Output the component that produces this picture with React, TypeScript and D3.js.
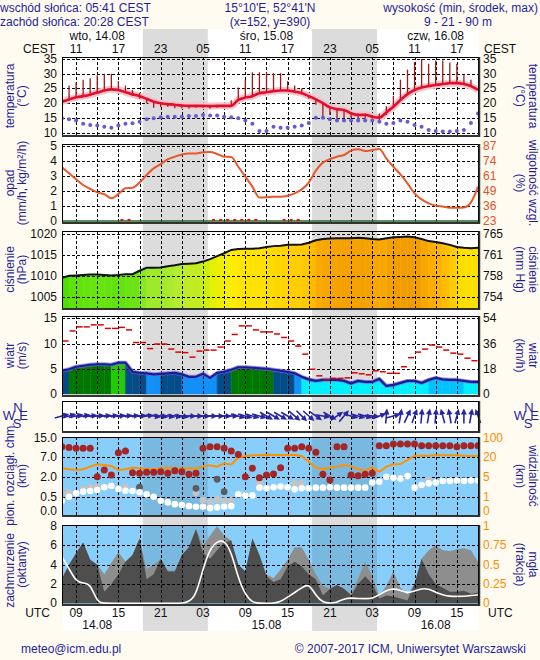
import React from 'react';
import * as d3 from 'd3';

// prognoza godzinowa: od 09 CEST 14.08 (07 UTC) do 20 CEST 16.08 – 60 kroków
const cestLabels = ['11', '17', '23', '05', '11', '17', '23', '05', '11', '17'];
const utcLabels = ['09', '15', '21', '03', '09', '15', '21', '03', '09', '15'];
const labelHours = [2, 8, 14, 20, 26, 32, 38, 44, 50, 56];
const dayLabels = ['wto, 14.08', 'śro, 15.08', 'czw, 16.08'];
const dateLabels = ['14.08', '15.08', '16.08'];
const noonHours = [5, 29, 53];
const sunsetHours = [11.47, 35.47];
const sunriseHours = [20.68, 44.68];

const temperature = [
  20.5, 21.3, 22.0, 22.4, 22.9, 23.6, 24.3, 24.7, 24.5, 23.7,
  23.0, 22.4, 21.5, 20.5, 20.0, 19.7, 19.5, 19.2, 19.1, 19.1,
  19.1, 19.0, 19.1, 19.1, 19.1, 21.1, 21.9, 22.4, 23.4, 23.7,
  24.1, 24.3, 24.3, 23.9, 23.4, 22.4, 21.3, 20.0, 18.6, 18.0,
  17.7, 16.6, 16.0, 16.1, 15.4, 15.1, 16.9, 18.8, 21.1, 23.1,
  24.5, 25.3, 25.8, 26.2, 26.5, 26.8, 26.8, 26.5, 25.8, 24.5,
];
const tempHigh = [
  20.5, 26.0, 27.0, 28.0, 28.5, 29.5, 30.0, 30.0, 27.5, 26.0,
  24.5, 23.5, 21.5, 20.5, 20.0, 19.7, 19.5, 19.2, 19.1, 19.1,
  19.1, 19.0, 19.1, 19.1, 21.0, 25.3, 28.0, 30.5, 30.5, 30.5,
  30.2, 30.2, 27.5, 26.0, 25.0, 22.4, 21.3, 20.0, 18.6, 18.0,
  17.7, 16.6, 16.5, 16.5, 16.0, 16.5, 19.0, 22.5, 28.0, 31.4,
  34.0, 35.0, 33.4, 34.5, 34.5, 33.8, 33.4, 29.5, 28.0, 24.5,
];
const tempLow = [
  20.5, 21.3, 22.0, 22.4, 22.9, 23.6, 24.3, 24.7, 24.5, 23.7,
  22.5, 21.5, 20.0, 18.5, 18.6, 18.8, 18.3, 18.3, 18.2, 18.5,
  18.5, 18.2, 18.5, 18.6, 19.0, 21.1, 21.9, 22.4, 23.4, 23.7,
  24.1, 24.3, 24.3, 23.9, 23.4, 21.5, 19.5, 15.5, 16.0, 14.7,
  15.0, 15.0, 15.0, 14.8, 14.8, 13.3, 16.0, 18.8, 21.1, 23.1,
  24.5, 25.3, 25.8, 26.2, 26.5, 26.8, 26.8, 26.5, 25.8, 24.5,
];
const dewPoint = [
  14.9, 14.6, 14.1, 13.0, 12.6, 12.4, 12.0, 11.7, 12.4, 13.0,
  13.2, 13.7, 14.6, 14.9, 15.2, 15.4, 15.4, 15.4, 15.7, 15.7,
  16.0, 15.8, 15.8, 15.4, 15.2, 14.9, 14.1, 13.0, 10.6, 10.6,
  12.0, 11.7, 11.7, 12.0, 12.4, 13.3, 15.1, 15.1, 14.6, 14.1,
  14.1, 14.1, 14.1, 14.1, 14.1, 13.7, 13.0, 13.3, 14.1, 13.7,
  12.6, 12.0, 10.9, 10.6, 10.4, 10.4, 10.6, 10.9, 13.3, 16.5,
];
const precipitation = [
  0, 0, 0, 0, 0, 0, 0, 0, 0.1, 0.1,
  0, 0, 0, 0, 0, 0, 0, 0, 0, 0,
  0, 0.1, 0.1, 0.1, 0.1, 0.1, 0.1, 0.1, 0, 0,
  0, 0.1, 0.1, 0.1, 0, 0, 0, 0, 0, 0,
  0, 0, 0, 0, 0, 0, 0, 0, 0, 0,
  0, 0, 0, 0, 0, 0, 0, 0, 0, 0,
];
const humidity = [
  68.8, 63.7, 58.6, 53.7, 50.3, 47.4, 45.8, 42.4, 46.0, 50.9,
  51.4, 55.8, 62.3, 67.9, 71.6, 75.6, 77.9, 79.8, 80.7, 80.7,
  81.6, 81.9, 80.2, 77.9, 77.7, 69.3, 60.9, 52.3, 43.0, 43.2,
  43.7, 43.7, 44.6, 46.6, 50.0, 55.8, 66.0, 72.8, 75.9, 77.9,
  79.3, 83.0, 84.2, 82.8, 83.5, 84.4, 76.5, 69.3, 62.8, 55.1,
  46.6, 41.4, 38.1, 36.1, 35.3, 34.4, 34.4, 34.6, 38.9, 52.3,
];
const pressure = [
  1009.5, 1010.0, 1010.1, 1010.2, 1010.3, 1010.3, 1010.2, 1010.1, 1010.2, 1010.4,
  1010.4, 1011.2, 1011.9, 1011.9, 1012.0, 1012.3, 1012.5, 1012.8, 1012.9, 1013.0,
  1013.4, 1014.0, 1014.7, 1015.4, 1016.2, 1016.4, 1016.5, 1016.5, 1016.6, 1016.9,
  1017.1, 1017.2, 1017.4, 1017.4, 1017.5, 1017.9, 1018.5, 1018.8, 1018.9, 1019.0,
  1019.0, 1019.0, 1019.1, 1019.0, 1018.8, 1018.7, 1019.0, 1019.2, 1019.3, 1019.4,
  1019.2, 1018.8, 1018.3, 1018.1, 1017.8, 1017.4, 1016.9, 1016.7, 1016.6, 1016.7,
];
const windSpeed = [
  4.6, 4.9, 5.4, 5.6, 5.8, 5.9, 5.9, 5.8, 6.2, 6.2,
  4.4, 4.2, 4.1, 3.9, 4.0, 4.1, 4.2, 3.9, 3.4, 3.4,
  4.0, 3.2, 4.2, 4.4, 4.8, 5.3, 5.3, 5.2, 5.1, 5.0,
  4.8, 4.6, 4.4, 4.1, 3.4, 2.9, 2.6, 2.8, 2.8, 2.8,
  2.6, 2.1, 2.6, 2.4, 2.4, 3.0, 1.6, 1.8, 2.2, 2.6,
  2.6, 2.2, 2.8, 3.2, 2.9, 2.8, 2.8, 2.6, 2.4, 2.4,
];
const windGust = [
  10.5, 12.5, 13.3, 13.3, 13.7, 13.7, 13.0, 13.0, 13.2, 12.7,
  10.2, 10.2, 9.0, 9.9, 9.9, 8.9, 8.3, 8.2, 7.3, 8.5,
  8.7, 8.7, 9.3, 10.5, 11.8, 13.5, 13.5, 12.7, 12.3, 12.3,
  11.9, 11.2, 10.5, 9.5, 7.9, 4.9, 3.6, 2.8, 3.1, 3.1,
  3.2, 4.2, 4.0, 3.8, 4.6, 4.4, 4.1, 4.1, 5.4, 7.2,
  8.3, 8.9, 9.7, 9.3, 8.7, 8.1, 7.9, 7.1, 6.6, 6.6,
];
// klasa koloru wypełnienia dla odcinka [h, h+1]
const windClass = [
  0, 1, 1, 1, 1, 1, 1, 2, 2, 0,
  0, 0, 3, 3, 0, 0, 0, 3, 3, 3,
  3, 3, 0, 0, 1, 1, 1, 1, 1, 1,
  0, 0, 0, 3, 4, 4, 4, 4, 4, 4,
  4, 4, 4, 4, 4, 4, 4, 4, 4, 4,
  4, 4, 5, 5, 5, 5, 5, 4, 4, 4,
];
const windDir = [
  255, 255, 258, 260, 265, 265, 265, 265, 265, 265,
  265, 265, 265, 280, 280, 280, 280, 280, 272, 272,
  272, 272, 272, 272, 272, 285, 285, 285, 285, 300,
  300, 300, 300, 310, 315, 312, 305, 280, 300, 235,
  220, 285, 285, 285, 275, 250, 185, 255, 190, 205,
  200, 185, 190, 185, 165, 170, 195, 180, 190, 160,
];
const cloudTop = [
  11.4, 11.1, 10.7, 10.7, 10.7, 2.15, 3.8, 2.6, 8.9, 9.6,
  3.15, 3.0, 3.25, 3.25, 3.4, 3.0, 3.65, 3.4, 2.75, 3.0,
  10.7, 11.4, 11.4, 10.7, 9.6, 8.2, 2.15, 4.25, 1.97, 2.6,
  2.8, 4.4, 10.7, 10.7, 11.4, 10.7, 9.1, 2.75, 1.79, 11.4,
  11.4, 2.6, 2.4, 2.75, 3.0, 11.8, 11.8, 12.5, 12.5, 12.5,
  12.5, 11.8, 11.8, 11.8, 11.8, 11.8, 11.4, 11.8, 11.8, 11.8,
];
const cloudBase = [
  0.36, 0.5, 0.76, 0.89, 0.94, 1.02, 1.23, 1.33, 1.1, 0.96,
  0.94, 0.84, 0.69, 0.5, 0.36, 0.3, 0.24, 0.21, 0.17, 0.15,
  0.15, 0.1, 0.13, 0.15, 0.17, 0.69, 0.58, 0.6, 1.2, 1.15,
  1.23, 1.28, 1.23, 1.07, 1.15, 1.15, 1.2, 1.2, 1.23, 1.2,
  1.2, 1.2, 1.2, 1.2, 1.6, 1.65, 2.15, 1.97, 1.9, 2.3,
  1.2, 1.4, 1.53, 1.6, 1.72, 1.72, 1.75, 1.72, 1.75, 1.75,
];
const convLight = [
  0.76, 0.81, null, 1.1, 1.23, 1.28, null, null, null, 1.23,
  null, null, null, null, null, null, null, null, null, 0.8,
  0.38, 0.29, 0.41, 0.36, 0.36, null, null, null, 1.61, null,
  null, null, null, 1.53, 1.53, null, null, null, null, null,
  null, null, null, null, null, null, null, null, null, null,
  null, null, 1.79, null, null, null, null, null, null, null,
];
const convDark = [
  null, null, null, null, null, null, null, null, null, null,
  null, 1.23, null, null, null, null, null, null, null, 1.15,
  null, null, 1.85, 0.89, null, null, null, null, null, null,
  null, null, null, null, null, null, null, null, null, null,
  null, null, null, null, null, null, null, null, null, null,
  null, null, null, null, null, null, null, null, null, null,
];
const visibility = [
  11.8, 11.0, 10.5, 11.0, 13.0, 14.7, 14.2, 13.5, 10.5, 11.0,
  12.2, 11.8, 11.2, 11.0, 11.8, 12.0, 11.8, 11.5, 11.8, 11.5,
  13.0, 14.0, 13.0, 15.5, 14.7, 19.7, 25.4, 28.3, 28.3, 30.8,
  29.5, 29.5, 29.5, 29.5, 25.4, 16.7, 12.2, 11.2, 12.2, 13.0,
  14.2, 13.0, 11.2, 10.0, 12.5, 9.2, 13.0, 14.7, 14.9, 18.0,
  26.6, 26.6, 26.6, 28.3, 28.3, 28.3, 28.3, 26.6, 25.4, 25.4,
];
const cloudTotal = [
  2.6, 4.0, 5.2, 6.3, 4.5, 4.0, 3.0, 4.2, 5.3, 4.3,
  5.0, 6.7, 3.5, 4.0, 4.6, 3.4, 3.4, 5.0, 5.8, 7.7,
  6.0, 7.0, 8.0, 7.0, 6.5, 4.0, 3.3, 6.7, 5.0, 3.0,
  2.6, 3.5, 4.5, 5.8, 5.8, 4.5, 3.0, 1.8, 1.5, 1.9,
  1.5, 1.0, 2.6, 4.3, 2.8, 0.8, 1.8, 3.3, 1.6, 0.9,
  2.0, 4.6, 5.5, 6.0, 5.5, 5.4, 5.6, 5.7, 5.5, 4.3,
];
const cloudLow = [
  2.6, 4.0, 5.2, 6.3, 4.5, 4.0, 1.2, 2.0, 3.0, 4.3,
  5.0, 6.7, 2.5, 3.0, 4.6, 3.3, 3.3, 5.0, 5.8, 7.7,
  5.2, 4.6, 5.5, 6.3, 6.5, 4.0, 3.3, 6.7, 5.0, 2.8,
  2.2, 2.5, 3.8, 4.3, 3.8, 3.0, 2.5, 0.8, 1.5, 1.9,
  1.5, 0.8, 2.0, 2.8, 2.0, 0.5, 0.8, 0.7, 0.5, 0.3,
  2.0, 4.6, 3.0, 2.0, 1.6, 1.2, 1.2, 1.3, 1.0, 1.1,
];
const fog = [
  0.6, 0.45, 0.28, 0.26, 0.26, 0.01, 0, 0, 0, 0,
  0, 0, 0, 0, 0, 0, 0, 0, 0.02, 0.1,
  0.45, 0.71, 0.8, 0.82, 0.67, 0.32, 0.11, 0.01, 0, 0,
  0, 0.02, 0.08, 0.14, 0.2, 0.26, 0.1, 0.01, 0, 0.01,
  0.06, 0.07, 0.06, 0.06, 0.06, 0.11, 0.17, 0.19, 0.17, 0.13,
  0.16, 0.19, 0.19, 0.14, 0.11, 0.09, 0.09, 0.09, 0.1, 0.11,
];

const FONT = "'Liberation Sans', Arial, Helvetica, sans-serif";
const NAVY = '#1f1f9c';
const BG = '#fffbf0';
const NIGHT = '#dcdcdc';
const SKY = '#87cefa';
const windColors = ['#034c88', '#007800', '#22cc00', '#1090f8', '#00f0ff', '#00c4ff'];

const L = 62;
const R = 478;

export default function App() {
  const x = d3.scaleLinear().domain([0, temperature.length - 1]).range([L, R]);
  const idx = temperature.map((_, i) => i);
  const gridHours = d3.range(2, temperature.length, 3);

  const P = {
    temp: { top: 57, bottom: 135 },
    rain: { top: 144, bottom: 222 },
    pres: { top: 231, bottom: 308 },
    wind: { top: 316, bottom: 395 },
    dir: { top: 401, bottom: 431 },
    base: { top: 437, bottom: 515 },
    cloud: { top: 525, bottom: 604 },
  };

  const yT = d3.scaleLinear().domain([10, 35]).range([132.7, 59]);
  const yR = d3.scaleLinear().domain([0, 5]).range([221, 146]);
  const yHum = d3.scaleLinear().domain([23, 87]).range([221, 146]);
  const yP = d3.scaleLinear().domain([1005, 1020]).range([296.7, 234]);
  const yW = d3.scaleLinear().domain([0, 15]).range([394, 318.3]);
  const yB = d3.scaleLinear().domain([0, 0.5, 2, 7, 15]).range([511, 496.7, 477.3, 457.3, 438]);
  const yVis = d3.scaleLinear().domain([0, 1, 5, 20, 100]).range([511, 496.7, 477.3, 457.3, 438]);
  const yC = d3.scaleLinear().domain([0, 8]).range([603.3, 526]);
  const yFog = d3.scaleLinear().domain([0, 1]).range([603.3, 526]);
  const presColor = d3.scaleLinear<string>()
    .domain([1009.5, 1011, 1012.5, 1014, 1016, 1017.2, 1018.2, 1019])
    .range(['#4ce000', '#7ee820', '#b4ec30', '#e4f000', '#ffee00', '#ffd400', '#ffb000', '#f5a200']);

  const mkLine = (ys, vals, curve = d3.curveMonotoneX) =>
    d3.line<number>().x(i => x(i)).y(i => ys(vals[i])).curve(curve)(idx);

  const vGrid = (top, bottom) => gridHours.map(h => (
    <line key={'v' + h} x1={Math.round(x(h)) + 0.5} x2={Math.round(x(h)) + 0.5} y1={top} y2={bottom}
      stroke="#000" strokeDasharray="3,2" />
  ));
  const hGrid = (vals, ys, key) => vals.map(v => (
    <line key={key + v} x1={L} x2={R} y1={Math.round(ys(v)) + 0.5} y2={Math.round(ys(v)) + 0.5}
      stroke="#000" strokeDasharray="3,2" />
  ));
  const frame = (p) => (
    <g>
      <rect x={L + 0.5} y={p.top + 0.5} width={R - L} height={p.bottom - p.top} fill="none" stroke="#000" />
      <line x1={L} x2={R + 1.5} y1={p.bottom + 1} y2={p.bottom + 1} stroke="#333" strokeWidth={2} />
      <line x1={R + 1.5} x2={R + 1.5} y1={p.top} y2={p.bottom + 2} stroke="#333" strokeWidth={1.5} />
    </g>
  );
  const ticksL = (vals, ys, fmt, color = '#111') => vals.map(v => (
    <text key={'l' + v} x={57} y={ys(v)} textAnchor="end" dominantBaseline="central" fill={color}>{fmt(v)}</text>
  ));
  const ticksR = (vals, ys, fmt, color = '#111') => vals.map(v => (
    <text key={'r' + v} x={483} y={ys(v)} textAnchor="start" dominantBaseline="central" fill={color}>{fmt(v)}</text>
  ));
  const titles = (p, outer, inner, rOuter, rInner, outerShift = 0) => {
    const cy = (p.top + p.bottom) / 2;
    return (
      <g fill={NAVY} fontSize={12} textAnchor="middle" dominantBaseline="central">
        <text transform={`translate(10,${cy + outerShift}) rotate(-90)`}>{outer}</text>
        <text transform={`translate(21.5,${cy}) rotate(-90)`}>{inner}</text>
        <text transform={`translate(520,${cy}) rotate(90)`}>{rInner}</text>
        <text transform={`translate(533,${cy}) rotate(90)`}>{rOuter}</text>
      </g>
    );
  };
  const nightRects = (top, bottom, fill, opacity) => sunsetHours.map((s, i) => (
    <rect key={'n' + i} x={x(s)} y={top} width={x(sunriseHours[i]) - x(s)} height={bottom - top}
      fill={fill} opacity={opacity} />
  ));
  const compass = (cx) => (
    <g fill={NAVY} fontSize={13} textAnchor="middle" dominantBaseline="central">
      <text x={cx - 7} y={415}>W</text>
      <text x={cx + 2} y={407}>N</text>
      <text x={cx + 7.5} y={415}>E</text>
      <text x={cx + 1} y={423}>S</text>
    </g>
  );

  const clips = Object.entries(P).map(([k, p]) => (
    <clipPath id={'clip-' + k} key={k}>
      <rect x={L} y={p.top} width={R - L} height={p.bottom - p.top} />
    </clipPath>
  ));

  const arrowLen = 15;
  const dirY = (P.dir.top + P.dir.bottom) / 2;

  return (
    <svg width={540} height={660} style={{ position: 'absolute', left: 0, top: 0 }} fontFamily={FONT} fontSize={12}>
      <defs>{clips}</defs>
      <rect width={540} height={660} fill={BG} />

      {/* header */}
      <g fill={NAVY} fontSize={12}>
        <text x={0} y={7.5} dominantBaseline="central">wschód słońca: 05:41 CEST</text>
        <text x={0} y={22} dominantBaseline="central">zachód słońca: 20:28 CEST</text>
        <text x={270} y={7.5} dominantBaseline="central" textAnchor="middle">15°10'E, 52°41'N</text>
        <text x={270} y={22} dominantBaseline="central" textAnchor="middle">(x=152,  y=390)</text>
        <text x={538} y={7.5} dominantBaseline="central" textAnchor="end">wysokość (min, środek, max)</text>
        <text x={458} y={22} dominantBaseline="central" textAnchor="middle">9 - 21 - 90 m</text>
      </g>

      {/* day/night strip */}
      <rect x={L} y={29} width={R - L} height={602} fill="#fff" />
      {nightRects(29, 631, NIGHT, 1)}

      <g fill="#111" fontSize={12} textAnchor="middle" dominantBaseline="central">
        {dayLabels.map((d, i) => <text key={d} x={x(noonHours[i])} y={36}>{d}</text>)}
        {cestLabels.map((t, i) => <text key={'c' + i} x={x(labelHours[i])} y={49}>{t}</text>)}
        <text x={55} y={49} textAnchor="end">CEST</text>
        <text x={484} y={49} textAnchor="start">CEST</text>
        {utcLabels.map((t, i) => <text key={'u' + i} x={x(labelHours[i])} y={613}>{t}</text>)}
        <text x={50} y={613} textAnchor="end">UTC</text>
        <text x={488} y={613} textAnchor="start">UTC</text>
        {dateLabels.map((d, i) => <text key={d} x={x(noonHours[i])} y={625}>{d}</text>)}
      </g>

      {/* temperatura */}
      <g clipPath="url(#clip-temp)">
        {vGrid(P.temp.top, P.temp.bottom)}
        {hGrid([10, 15, 20, 25, 30, 35], yT, 't')}
        <path d={mkLine(yT, temperature)} fill="none" stroke="#f6c4cf" strokeWidth={7} strokeLinejoin="round" />
        {idx.filter(i => tempHigh[i] - tempLow[i] > 0.3).map(i => (
          <line key={'tb' + i} x1={x(i)} x2={x(i)} y1={yT(tempLow[i])} y2={yT(tempHigh[i])} stroke="#a01818" strokeWidth={1.3} />
        ))}
        <path d={mkLine(yT, temperature)} fill="none" stroke="#e0102a" strokeWidth={2.6} strokeLinejoin="round" />
        {idx.map(i => <circle key={'dp' + i} cx={x(i)} cy={yT(dewPoint[i])} r={2} fill="#6a5ad0" />)}
      </g>
      {frame(P.temp)}
      <g fontSize={12}>
        {ticksL([10, 15, 20, 25, 30, 35], yT, v => v)}
        {ticksR([10, 15, 20, 25, 30, 35], yT, v => v)}
      </g>
      {titles(P.temp, 'temperatura', '(°C)', 'temperatura', '(°C)')}

      {/* opad / wilgotność */}
      <g clipPath="url(#clip-rain)">
        {vGrid(P.rain.top, P.rain.bottom)}
        {hGrid([1, 2, 3, 4, 5], yR, 'r')}
        <line x1={L} x2={R} y1={yR(0)} y2={yR(0)} stroke="#2a6a2a" strokeWidth={1.5} />
        {idx.filter(i => precipitation[i] > 0).map(i => (
          <rect key={'pr' + i} x={x(i + 0.5) - 1.5} y={Math.min(yR(precipitation[i]), yR(0) - 2)} width={3}
            height={Math.max(2, yR(0) - yR(precipitation[i]))} fill="#e01010" />
        ))}
        <path d={mkLine(yHum, humidity)} fill="none" stroke="#e8582a" strokeWidth={2} />
      </g>
      {frame(P.rain)}
      <g fontSize={12}>
        {ticksL([0, 1, 2, 3, 4, 5], yR, v => v)}
        {ticksR([0, 1, 2, 3, 4, 5], yR, v => Math.round(23 + v * 12.8), '#e8501e')}
      </g>
      {titles(P.rain, 'opad', '(mm/h, kg/m²/h)', 'wilgotność wzgl.', '(%)')}

      {/* ciśnienie */}
      <g clipPath="url(#clip-pres)">
        {idx.slice(0, -1).map(i => (
          <path key={'pf' + i}
            d={d3.area<number>().x(j => x(j)).y0(P.pres.bottom).y1(j => yP(pressure[j]))([i, i + 1])}
            fill={presColor(pressure[i])} stroke={presColor(pressure[i])} strokeWidth={0.5} />
        ))}
        {vGrid(P.pres.top, P.pres.bottom)}
        {hGrid([1005, 1010, 1015, 1020], yP, 'p')}
        <path d={mkLine(yP, pressure, d3.curveLinear)} fill="none" stroke="#111" strokeWidth={2} />
      </g>
      {frame(P.pres)}
      <g fontSize={12}>
        {ticksL([1005, 1010, 1015, 1020], yP, v => v)}
        {ticksR([1005, 1010, 1015, 1020], yP, v => Math.round(v * 0.75006))}
      </g>
      {titles(P.pres, 'ciśnienie', '(hPa)', 'ciśnienie', '(mm Hg)')}

      {/* wiatr */}
      <g clipPath="url(#clip-wind)">
        {idx.slice(0, -1).map(i => (
          <path key={'wf' + i}
            d={d3.area<number>().x(j => x(j)).y0(yW(0)).y1(j => yW(windSpeed[j]))([i, i + 1])}
            fill={windColors[windClass[i]]} stroke={windColors[windClass[i]]} strokeWidth={0.5} />
        ))}
        {vGrid(P.wind.top, P.wind.bottom)}
        {hGrid([5, 10, 15], yW, 'w')}
        <path d={mkLine(yW, windSpeed, d3.curveLinear)} fill="none" stroke="#6a6ad8" strokeWidth={4} strokeLinejoin="round" opacity={0.7} />
        <path d={mkLine(yW, windSpeed, d3.curveLinear)} fill="none" stroke="#1c1c96" strokeWidth={2.2} strokeLinejoin="round" />
        {idx.slice(0, -1).map(i => (
          <line key={'g' + i} x1={x(i) + 0.5} x2={x(i + 1) - 0.5} y1={yW(windGust[i])} y2={yW(windGust[i])}
            stroke="#e00000" strokeWidth={1.5} />
        ))}
      </g>
      {frame(P.wind)}
      <g fontSize={12}>
        {ticksL([0, 5, 10, 15], yW, v => v)}
        {ticksR([0, 5, 10, 15], yW, v => Math.round(v * 3.6))}
      </g>
      {titles(P.wind, 'wiatr', '(m/s)', 'wiatr', '(km/h)')}

      {/* kierunek wiatru */}
      <g>
        {vGrid(P.dir.top, P.dir.bottom)}
        {idx.map(i => {
          const a = ((windDir[i] + 180) * Math.PI) / 180;
          const dx = (Math.sin(a) * arrowLen) / 2;
          const dy = (-Math.cos(a) * arrowLen) / 2;
          const cx = x(i);
          const tx = cx + dx, ty = dirY + dy;
          const ux = dx / (arrowLen / 2), uy = dy / (arrowLen / 2);
          const head = `M${tx},${ty} L${tx - ux * 6 - uy * 3},${ty - uy * 6 + ux * 3} L${tx - ux * 6 + uy * 3},${ty - uy * 6 - ux * 3} Z`;
          return (
            <g key={'a' + i}>
              <line x1={cx - dx} y1={dirY - dy} x2={tx - ux * 3} y2={ty - uy * 3} stroke="#2626a4" strokeWidth={1.6} />
              <path d={head} fill="#2626a4" />
            </g>
          );
        })}
      </g>
      {frame(P.dir)}
      {compass(16)}
      {compass(527)}

      {/* podstawa / wierzchołek chmur, widzialność */}
      <g clipPath="url(#clip-base)">
        <rect x={L} y={P.base.top} width={R - L} height={P.base.bottom - P.base.top} fill={SKY} />
        {nightRects(P.base.top, P.base.bottom, '#000', 0.1)}
        {vGrid(P.base.top, P.base.bottom)}
        {hGrid([0.5, 2, 7], yB, 'b')}
        <path d={mkLine(yVis, visibility, d3.curveLinear)} fill="none" stroke="#ff9000" strokeWidth={2} />
        {idx.filter(i => convLight[i] != null).map(i => <circle key={'cl' + i} cx={x(i)} cy={yB(convLight[i])} r={3.4} fill="#c4c4c4" />)}
        {idx.filter(i => convDark[i] != null).map(i => <circle key={'cd' + i} cx={x(i)} cy={yB(convDark[i])} r={3.4} fill="#5c5c5c" />)}
        {idx.map(i => <circle key={'cb' + i} cx={x(i)} cy={yB(cloudBase[i])} r={3.3} fill="#fff" />)}
        {idx.map(i => <circle key={'ct' + i} cx={x(i)} cy={yB(cloudTop[i])} r={3.5} fill="#a32525" />)}
      </g>
      {frame(P.base)}
      <g fontSize={12}>
        {ticksL([0, 0.5, 2, 7, 15], yB, v => v.toFixed(1))}
        {ticksR([0, 1, 5, 20, 100], yVis, v => v, '#ff8c00')}
      </g>
      {titles(P.base, 'pion. rozciągł. chm.', '(km)', 'widzialność', '(km)', -2)}

      {/* zachmurzenie, mgła */}
      <g clipPath="url(#clip-cloud)">
        <rect x={L} y={P.cloud.top} width={R - L} height={P.cloud.bottom - P.cloud.top} fill={SKY} />
        {nightRects(P.cloud.top, P.cloud.bottom, '#000', 0.1)}
        <path d={d3.area<number>().x(i => x(i)).y0(yC(0)).y1(i => yC(cloudTotal[i]))(idx)} fill="#8e8e8e" />
        <path d={d3.area<number>().x(i => x(i)).y0(yC(0)).y1(i => yC(cloudLow[i]))(idx)} fill="#4e4e4e" />
        {vGrid(P.cloud.top, P.cloud.bottom)}
        {hGrid([2, 4, 6], yC, 'c')}
        <path d={mkLine(yFog, fog, d3.curveBasis)} fill="none" stroke="#fff" strokeWidth={1.6} />
      </g>
      {frame(P.cloud)}
      <g fontSize={12}>
        {ticksL([0, 2, 4, 6, 8], yC, v => v)}
        {ticksR([0, 0.25, 0.5, 0.75, 1], yFog, v => v, '#ff8c00')}
      </g>
      {titles(P.cloud, 'zachmurzenie', '(oktanty)', 'mgła', '(frakcja)', 6)}

      {/* stopka */}
      <g fill={NAVY} fontSize={12} dominantBaseline="central">
        <text x={21} y={649}>meteo@icm.edu.pl</text>
        <text x={526} y={649} textAnchor="end">© 2007-2017 ICM, Uniwersytet Warszawski</text>
      </g>
    </svg>
  );
}
